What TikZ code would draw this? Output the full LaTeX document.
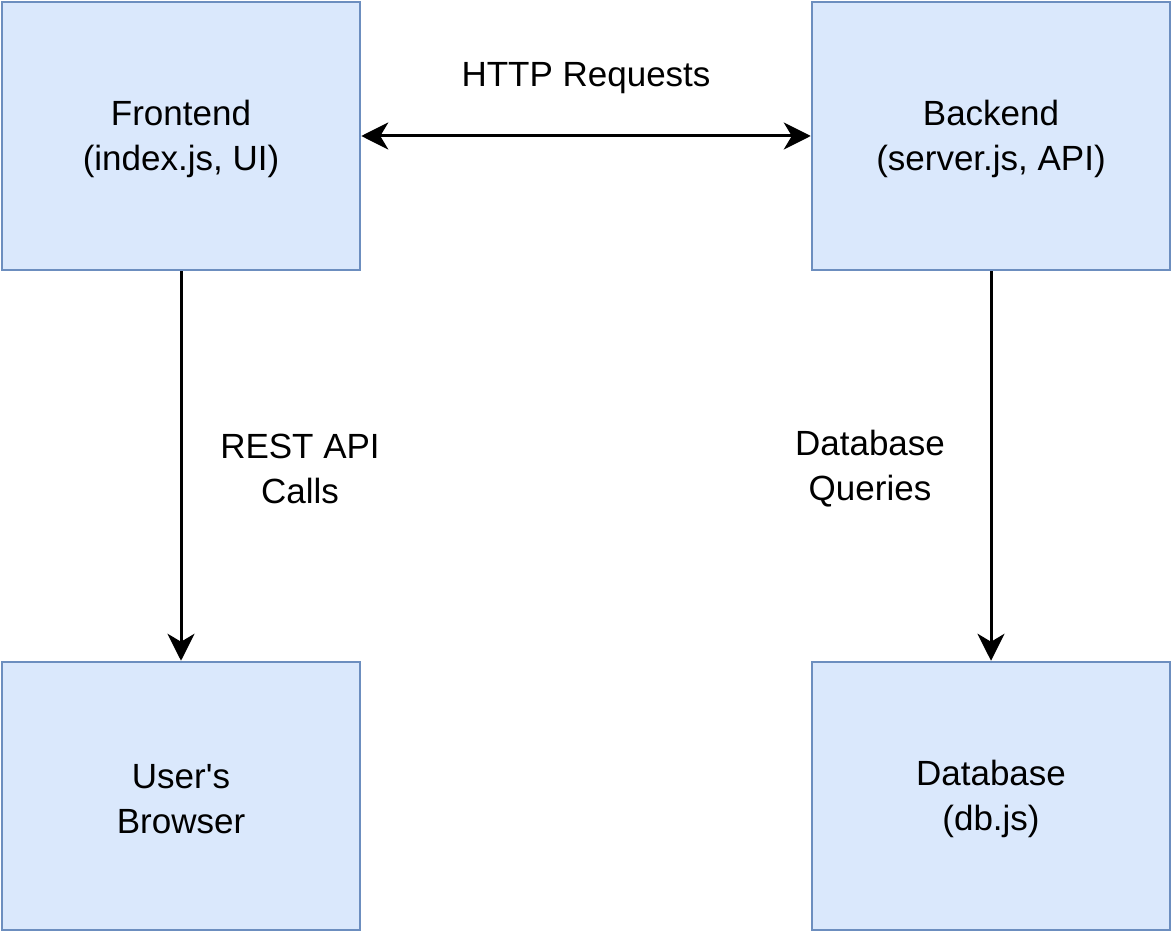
\documentclass[tikz,border=0pt]{standalone}
\usepackage{fontspec}
\setmainfont{Liberation Sans}
\usetikzlibrary{arrows.meta}
\definecolor{boxfill}{HTML}{DAE8FC}
\definecolor{boxline}{HTML}{6C8EBF}
\tikzset{
    block/.style={draw=boxline, fill=boxfill, line width=2.5pt,
        minimum width=358pt, minimum height=268pt},
    tag/.style={align=center, font=\fontsize{35}{45}\selectfont},
    inbox/.style={label={[tag, yshift=-3pt]center:{#1}}},
    tip/.style={Stealth[length=27pt,width=27pt,inset=8pt]},
    flow/.style={line width=3pt, -{Stealth[length=27pt,width=27pt,inset=8pt]}}
}
\begin{document}
\begin{tikzpicture}[x=1pt,y=-1pt]
        \useasboundingbox (0,0) rectangle (1173,933);
        %% Boxes
        \node[block, inbox={Frontend\\(index.js, UI)}] (front) at (181,136) {};
        \node[block, inbox={Backend\\(server.js, API)}] (back) at (991,136) {};
        \node[block, inbox={User\textquotesingle s\\Browser}] (browser) at (181,796) {};
        \node[block, inbox={Database\\(db.js)}] (db) at (991,796) {};
        %% Connectors
        \draw[line width=3pt, {Stealth[length=27pt,width=27pt,inset=8pt]}-{Stealth[length=27pt,width=27pt,inset=8pt]}] (front) -- (back)
            node[tag, midway, yshift=58pt] (http) {HTTP Requests};
        \draw[flow] (front) -- (browser)
            node[tag, midway, xshift=119pt, yshift=-3pt] (rest) {REST API\\Calls};
        \draw[flow] (back) -- (db)
            node[tag, midway, xshift=-121pt, yshift=-3pt] (query) {Database\\Queries};
    \end{tikzpicture}
\end{document}
